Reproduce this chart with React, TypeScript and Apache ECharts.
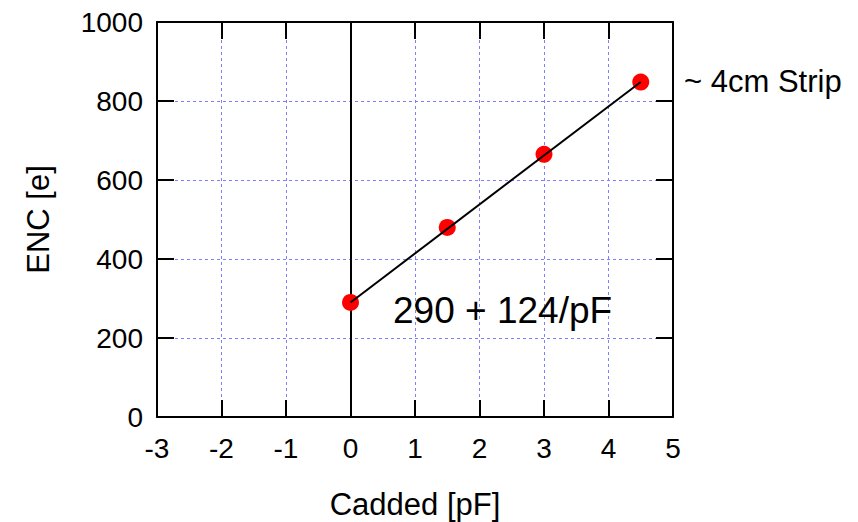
import React, { useEffect, useRef } from "react";
import * as echarts from "echarts";

const capX = [0, 1.5, 3, 4.5];
const encY = [290, 480, 665, 848];
const fitX = [0, 4.5];
const fitY = [290, 848];
const xTitle = "Cadded [pF]";
const yTitle = "ENC [e]";
const fitLabel = "290 + 124/pF";
const stripLabel = "~ 4cm Strip";

const FONT = "Liberation Sans, Arial, Helvetica, sans-serif";

export default function App() {
  const ref = useRef<HTMLDivElement>(null);
  useEffect(() => {
    if (!ref.current) return;
    const chart = echarts.init(ref.current, undefined, { renderer: "svg" });
    const grid = {
      left: 157,
      top: 22,
      width: 516,
      height: 395,
      containLabel: false,
      outerBoundsMode: "none",
    };
    const axisLineStyle = { color: "#000", width: 2 };
    const split = { show: true, lineStyle: { color: "#7f7fff", width: 1, type: [3, 3] as any } };
    chart.setOption({
      animation: false,
      backgroundColor: "#fff",
      textStyle: { fontFamily: FONT },
      grid,
      xAxis: [
        {
          type: "value",
          min: -3,
          max: 5,
          interval: 1,
          position: "bottom",
          name: xTitle,
          nameLocation: "middle",
          nameGap: 72,
          nameTextStyle: { fontSize: 31, color: "#000", fontFamily: FONT },
          axisLine: { show: true, onZero: false, lineStyle: axisLineStyle },
          axisTick: { show: true, inside: true, length: 17, lineStyle: axisLineStyle },
          axisLabel: { fontSize: 28, color: "#000", margin: 17, fontFamily: FONT },
          splitLine: split,
        },
        {
          type: "value",
          min: -3,
          max: 5,
          interval: 1,
          position: "top",
          axisLine: { show: true, onZero: false, lineStyle: axisLineStyle },
          axisTick: { show: true, inside: true, length: 17, lineStyle: axisLineStyle },
          axisLabel: { show: false },
          splitLine: { show: false },
        },
      ],
      yAxis: [
        {
          type: "value",
          min: 0,
          max: 1000,
          interval: 200,
          position: "left",
          name: yTitle,
          nameLocation: "middle",
          nameGap: 103,
          nameTextStyle: { fontSize: 31, color: "#000", fontFamily: FONT },
          axisLine: { show: true, onZero: false, lineStyle: axisLineStyle },
          axisTick: { show: true, inside: true, length: 17, lineStyle: axisLineStyle },
          axisLabel: {
            fontSize: 28,
            color: "#000",
            margin: 14,
            fontFamily: FONT,
            formatter: (v: number) => String(v),
          },
          splitLine: split,
        },
        {
          type: "value",
          min: 0,
          max: 1000,
          interval: 200,
          position: "right",
          axisLine: { show: true, onZero: false, lineStyle: axisLineStyle },
          axisTick: { show: true, inside: true, length: 17, lineStyle: axisLineStyle },
          axisLabel: { show: false },
          splitLine: { show: false },
        },
      ],
      series: [
        {
          type: "scatter",
          name: "ENC",
          data: capX.map((x, i) => [x, encY[i]]),
          symbol: "circle",
          symbolSize: 17,
          itemStyle: { color: "#ff0000", opacity: 1 },
          z: 3,
          markLine: {
            silent: true,
            symbol: "none",
            label: { show: false },
            lineStyle: { color: "#000", width: 2, type: "solid" },
            data: [{ xAxis: 0 }],
            z: 2,
          },
        },
        {
          type: "line",
          name: "fit",
          data: fitX.map((x, i) => [x, fitY[i]]),
          showSymbol: false,
          symbol: "none",
          lineStyle: { color: "#000", width: 2 },
          z: 4,
        },
      ],
      graphic: [
        {
          type: "text",
          left: 393,
          top: 292,
          style: { text: fitLabel, fontSize: 37, fill: "#000", fontFamily: FONT },
          z: 10,
        },
        {
          type: "text",
          left: 684,
          top: 66,
          style: { text: stripLabel, fontSize: 31, fill: "#000", fontFamily: FONT },
          z: 10,
        },
      ],
    });
    return () => chart.dispose();
  }, []);
  return (
    <div
      ref={ref}
      style={{ position: "fixed", left: 0, top: 0, width: 858, height: 522 }}
    />
  );
}
